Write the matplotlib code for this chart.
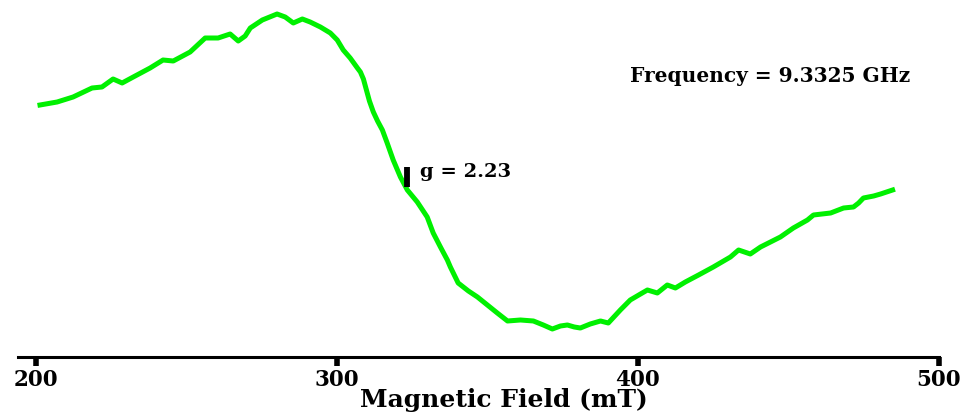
import matplotlib
matplotlib.use("Agg")
import matplotlib.pyplot as plt

# EPR spectrum (field in mT, intensity in arbitrary units)
field = [201.3, 207.0, 212.3, 218.6, 221.9, 225.6, 228.6, 232.3, 237.9, 242.2,
         245.6, 251.2, 256.2, 260.5, 264.5, 267.2, 269.5, 271.2, 275.2, 280.1,
         282.8, 285.5, 288.5, 291.1, 294.5, 297.8, 300.1, 302.1, 304.4, 306.8,
         307.8, 308.8, 309.8, 310.8, 312.1, 313.5, 315.1, 316.7, 318.7, 321.1,
         323.4, 326.7, 330.0, 332.0, 334.4, 336.7, 337.7, 340.3, 343.7, 346.7,
         350.0, 353.3, 356.7, 361.0, 365.3, 368.6, 371.6, 374.3, 376.6, 378.9,
         380.9, 384.2, 387.6, 390.2, 394.2, 397.5, 400.9, 403.2, 406.5, 409.8,
         412.5, 415.8, 420.2, 425.1, 430.8, 433.5, 437.4, 440.8, 444.1, 447.4,
         451.7, 456.4, 458.4, 464.1, 468.4, 471.7, 473.4, 475.0, 478.4, 480.7,
         484.7]
signal = [105, 108, 113, 122, 123, 131, 127, 133, 142, 150,
          149, 158, 172, 172, 176, 169, 174, 182, 190, 196,
          193, 187, 191, 188, 183, 177, 170, 160, 152, 142,
          138, 131, 120, 109, 98, 89, 80, 67, 50, 33,
          20, 8, -7, -23, -37, -50, -57, -73, -81, -87,
          -95, -103, -111, -110, -111, -115, -119, -116, -115, -117,
          -118, -114, -111, -113, -100, -90, -84, -80, -83, -75,
          -78, -72, -65, -57, -47, -40, -44, -37, -32, -27,
          -18, -10, -5, -3, 2, 3, 7, 12, 14, 16,
          20]

xticks = [200, 300, 400, 500]
g_field = 323.4
g_mark = [23, 43]
g_label = "g = 2.23"
freq_label = "Frequency = 9.3325 GHz"

font = "DejaVu Serif"

fig = plt.figure(figsize=(9.64, 4.13), dpi=100)
ax = fig.add_axes([0.0187, 0.1356, 0.955, 0.8644])

ax.plot(field, signal, color="#00f000", linewidth=3.6, solid_joinstyle="round")
ax.plot([g_field, g_field], g_mark, color="black", linewidth=4.2, solid_capstyle="butt")

ax.text(327.7, 38, g_label, fontsize=14, fontweight="bold", family=font,
        va="center", ha="left")
ax.text(397.5, 134, freq_label, fontsize=14.5, fontweight="bold", family=font,
        va="center", ha="left")

ax.set_xlim(194, 500)
ax.set_ylim(-147, 210)
ax.set_xticks(xticks)
ax.set_xticklabels([str(t) for t in xticks], fontsize=15.5, fontweight="bold", family=font)
ax.set_yticks([])
ax.tick_params(axis="x", direction="out", length=6.5, width=4, pad=2)

for side in ["top", "right", "left"]:
    ax.spines[side].set_visible(False)
ax.spines["bottom"].set_linewidth(2.2)

ax.set_xlabel("Magnetic Field (mT)", fontsize=18, fontweight="bold", family=font)
ax.xaxis.set_label_coords(0.528, -0.088)

fig.savefig("out.png", dpi=100)
